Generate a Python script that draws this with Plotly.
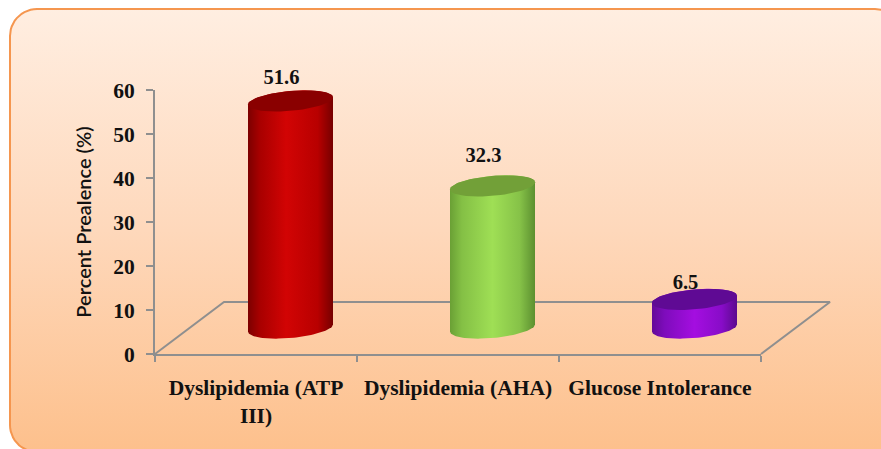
import numpy as np
import plotly.graph_objects as go

categories = ["Dyslipidemia (ATP<br>III)", "Dyslipidemia (AHA)", "Glucose Intolerance"]
prevalence = [51.6, 32.3, 6.5]
value_labels = ["51.6", "32.3", "6.5"]
y_ticks = [0, 10, 20, 30, 40, 50, 60]
label_lift = [11.0, 12.6, 9.4]

WIDTH, HEIGHT = 881, 449
AXIS_LEFT, AXIS_RIGHT, AXIS_TOP, AXIS_BOTTOM = 155, 761, 90, 354
UNIT_X = (AXIS_RIGHT - AXIS_LEFT) / 3
UNIT_Y = (AXIS_BOTTOM - AXIS_TOP) / 60

# Perspective of the pseudo-3D floor and of the cylinders standing on it
FLOOR_DX, FLOOR_DY = 69 / UNIT_X, 52 / UNIT_Y
SHIFT_X, BASE_Y = 34.5 / UNIT_X, 26 / UNIT_Y
RADIUS_X, CAP_B, CAP_TILT = 42.5 / UNIT_X, 10 / UNIT_Y, 3.6 / UNIT_Y

PALETTES = [
    {"cap": "#8a0000",
     "body": [[0, "#7c0000"], [0.14, "#a80000"], [0.45, "#d20404"], [0.82, "#b80000"], [1, "#760000"]]},
    {"cap": "#72a038",
     "body": [[0, "#6aa035"], [0.14, "#84c045"], [0.5, "#9fdf55"], [0.82, "#86c248"], [1, "#5c9030"]]},
    {"cap": "#5f0a94",
     "body": [[0, "#640a98"], [0.15, "#7e0cbc"], [0.5, "#a40ee0"], [0.82, "#880cc8"], [1, "#5c0a8e"]]},
]


def ellipse_arc(cx, cy, start, stop, n=60):
    t = np.linspace(start, stop, n)
    return cx + RADIUS_X * np.cos(t), cy + CAP_TILT * np.cos(t) + CAP_B * np.sin(t)


def rounded_panel(left, top, right, bottom, r, n=14):
    xs, ys = [], []
    corners = [(left + r, top + r, np.pi, 1.5 * np.pi), (right - r, top + r, 1.5 * np.pi, 2 * np.pi),
               (right - r, bottom - r, 0, 0.5 * np.pi), (left + r, bottom - r, 0.5 * np.pi, np.pi)]
    for cx, cy, a, b in corners:
        t = np.linspace(a, b, n)
        xs.extend(cx + r * np.cos(t))
        ys.extend(cy + r * np.sin(t))
    return xs + xs[:1], ys + ys[:1]


fig = go.Figure()
positions = list(range(len(categories)))

# Rounded panel behind the chart, on a hidden pixel-sized subplot
px, py = rounded_panel(10, 9, 902, 452, 27)
fig.add_trace(go.Scatter(
    x=px, y=py, mode="lines", fill="toself", hoverinfo="skip", xaxis="x", yaxis="y",
    line=dict(color="#f5964f", width=2),
    fillgradient=dict(type="vertical", colorscale=[[0, "#fdc08c"], [0.5, "#fed8bb"], [1, "#ffeee1"]]),
))

# Visible value axes; the invisible trace keeps them in the scene
fig.add_trace(go.Scatter(
    x=positions, y=prevalence, mode="markers", marker=dict(opacity=0), hoverinfo="skip",
    xaxis="x2", yaxis="y2",
))

# The marks live on a full-page overlay with the same scale, so the floor can run past the axis end
x0, x1 = -0.5, 2.5
marks = dict(xaxis="x3", yaxis="y3", hoverinfo="skip")
fig.add_trace(go.Scatter(
    x=[x0, x0 + FLOOR_DX, x1 + FLOOR_DX, x1], y=[0, FLOOR_DY, FLOOR_DY, 0],
    mode="lines", line=dict(color="#8f8f8f", width=2), **marks,
))

# Value labels sit behind the cylinders
fig.add_trace(go.Scatter(
    x=[p + SHIFT_X - 9 / UNIT_X for p in positions],
    y=[v + lift for v, lift in zip(prevalence, label_lift)],
    text=value_labels, mode="text", textposition="middle center",
    textfont=dict(family="Liberation Serif", size=20.5, color="#111111", weight="bold"),
    **marks,
))

for pos, value, pal in zip(positions, prevalence, PALETTES):
    cx = pos + SHIFT_X
    top = BASE_Y + value
    bx, by = ellipse_arc(cx, BASE_Y, np.pi, 2 * np.pi)
    tx, ty = ellipse_arc(cx, top, 0, np.pi)
    fig.add_trace(go.Scatter(
        x=np.r_[bx, tx, bx[0]], y=np.r_[by, ty, by[0]], mode="lines", fill="toself",
        line=dict(width=0, color=pal["cap"]),
        fillgradient=dict(type="horizontal", colorscale=pal["body"]),
        **marks,
    ))
    ex, ey = ellipse_arc(cx, top, 0, 2 * np.pi)
    fig.add_trace(go.Scatter(
        x=ex, y=ey, mode="lines", fill="toself", fillcolor=pal["cap"],
        line=dict(width=0, color=pal["cap"]),
        **marks,
    ))

axis_font = dict(family="Liberation Serif", size=21.5, color="#111111", weight="bold")
fig.update_layout(
    width=WIDTH, height=HEIGHT, autosize=False,
    margin=dict(l=0, r=0, t=0, b=0, autoexpand=False),
    paper_bgcolor="#ffffff", plot_bgcolor="rgba(0,0,0,0)", showlegend=False,
    xaxis=dict(domain=[0, 1], range=[0, WIDTH], visible=False, fixedrange=True),
    yaxis=dict(domain=[0, 1], range=[HEIGHT, 0], visible=False, fixedrange=True),
    xaxis2=dict(
        domain=[AXIS_LEFT / WIDTH, AXIS_RIGHT / WIDTH], range=[x0, x1], anchor="y2",
        tickmode="array", tickvals=positions, ticktext=categories, tickfont=axis_font,
        ticks="outside", ticklen=13, tickcolor="rgba(0,0,0,0)",
        minor=dict(tickmode="array", tickvals=[-0.5, 0.5, 1.5, 2.5], ticks="outside",
                   ticklen=6, tickwidth=2, tickcolor="#8f8f8f"),
        showline=True, linecolor="#8f8f8f", linewidth=2, showgrid=False, zeroline=False,
        automargin=False,
    ),
    yaxis2=dict(
        domain=[1 - AXIS_BOTTOM / HEIGHT, 1 - AXIS_TOP / HEIGHT], range=[0, 60], anchor="x2",
        tickmode="array", tickvals=y_ticks, tickfont=axis_font,
        ticks="outside", ticklen=7, tickwidth=2, tickcolor="#8f8f8f", ticklabelstandoff=7,
        showline=True, linecolor="#8f8f8f", linewidth=2, showgrid=False, zeroline=False,
        automargin=False,
        title=dict(text="Percent Prealence (%)", standoff=16,
                   font=dict(family="Lato", size=20, color="#111111", weight=600)),
    ),
    xaxis3=dict(
        domain=[0, 1], anchor="y3", visible=False, fixedrange=True,
        range=[x0 - AXIS_LEFT / UNIT_X, x0 + (WIDTH - AXIS_LEFT) / UNIT_X],
    ),
    yaxis3=dict(
        domain=[0, 1], anchor="x3", visible=False, fixedrange=True,
        range=[(AXIS_BOTTOM - HEIGHT) / UNIT_Y, AXIS_BOTTOM / UNIT_Y],
    ),
)

fig.write_html("out.html")
